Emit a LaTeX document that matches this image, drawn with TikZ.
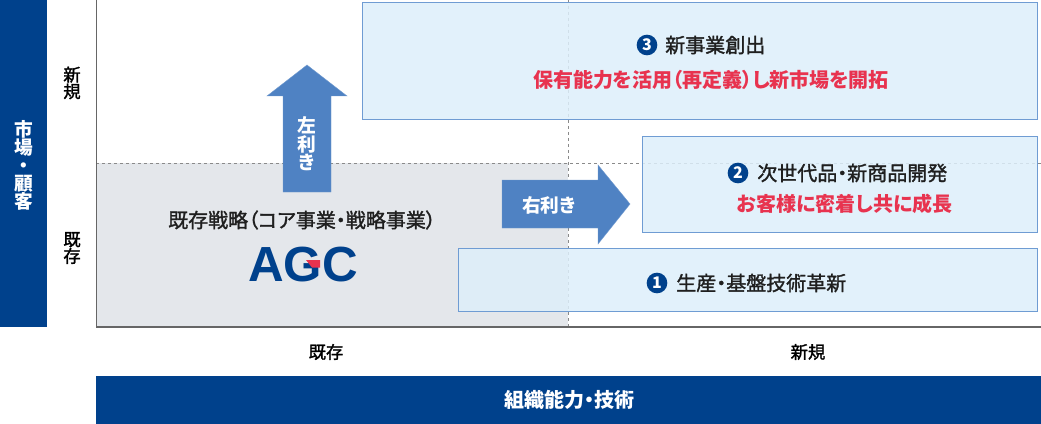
\documentclass[tikz,border=0pt]{standalone}
\usepackage{fontspec}
\setmainfont{Noto Sans CJK JP}[RawFeature=+palt]
\newfontfamily\medfont{Noto Sans CJK JP}[RawFeature=+palt,FakeBold=1.5]
\newfontfamily\logofont{Liberation Sans}
\definecolor{navy}{HTML}{00418C}
\definecolor{boxfill}{HTML}{DDEFFA}
\definecolor{boxline}{HTML}{6F9CD3}
\definecolor{arrowblue}{HTML}{4F82C3}
\definecolor{redtxt}{HTML}{E8334F}
\definecolor{grayreg}{HTML}{E4E7EB}
\definecolor{frameline}{HTML}{666666}
\definecolor{dashline}{HTML}{8A8A8A}
\begin{document}
\begin{tikzpicture}[x=0.75pt,y=-0.75pt,
  areabox/.style={draw=boxline,line width=0.9pt,fill=boxfill,fill opacity=0.85},
  numdot/.style={circle,fill=navy,text=white,inner sep=0pt,minimum size=15.5pt,font=\fontsize{12}{12}\selectfont\bfseries},
  title/.style={anchor=west,inner sep=0pt,font=\fontsize{15}{15}\medfont,text=black!88},
  redline/.style={inner sep=0pt,font=\fontsize{15}{15}\selectfont\bfseries,text=redtxt},
  vtext/.style={align=center,inner sep=0pt},
  arrowshape/.style={fill=arrowblue,draw=arrowblue!80!white,line width=0.3pt},
  dashy/.style={draw=dashline,line width=0.6pt,dash pattern=on 2.5pt off 2pt}]
\useasboundingbox (0,0) rectangle (1041,424);
% left bar
\fill[navy] (0,0) rectangle (47,327);
\node[vtext,text=white,font=\fontsize{14}{13.5}\selectfont\bfseries] (market) at (24,165) {市\\場\\・\\顧\\客};
% axis labels
\node[vtext,font=\fontsize{13}{12.5}\medfont] (ynew) at (72,83) {新\\規};
\node[vtext,font=\fontsize{13}{12.5}\medfont] (yold) at (72,248) {既\\存};
% gray region
\fill[grayreg] (96,163) rectangle (568,327);
% dashed lines
\draw[dashy] (96,163) -- (1041,163);
\draw[dashy] (568,0) -- (568,327);
% frame
\draw[frameline,line width=1pt] (96.5,0) -- (96.5,327) -- (1041,327);
% boxes
\node[areabox,minimum width=675*0.75pt,minimum height=117*0.75pt,anchor=north west] (b3) at (362,2) {};
\node[areabox,minimum width=395*0.75pt,minimum height=96*0.75pt,anchor=north west] (b2) at (642,136) {};
\node[areabox,minimum width=579*0.75pt,minimum height=63*0.75pt,anchor=north west] (b1) at (458,248) {};
% arrows
\draw[arrowshape] (283,192) -- (283,96) -- (267,96) -- (307,65) -- (347,96) -- (331,96) -- (331,192) -- cycle;
\draw[arrowshape] (502,180) -- (598,180) -- (598,165) -- (630,204) -- (598,244) -- (598,228) -- (502,228) -- cycle;
\node[vtext,text=white,font=\fontsize{14}{14}\selectfont\bfseries] (left) at (307,144) {左\\利\\き};
\node[inner sep=0pt,text=white,font=\fontsize{14}{14}\selectfont\bfseries] (right) at (549,205) {右利き};
% box 3
\node[numdot] (n3) at (647,45) {3};
\node[title] (t3) at (665,45) {新事業創出};
\node[redline] (r3) at (711,80) {保有能力を活用（再定義）し新市場を開拓};
% box 2
\node[numdot] (n2) at (738,173) {2};
\node[title] (t2) at (757,173) {次世代品・新商品開発};
\node[redline] (r2) at (845,204) {お客様に密着し共に成長};
% box 1
\node[numdot] (n1) at (657,283) {1};
\node[title] (t1) at (676,283) {生産・基盤技術革新};
% existing strategy
\node[inner sep=0pt,font=\fontsize{15}{15}\medfont,text=black!88] (exist) at (302,220) {既存戦略（コア事業・戦略事業）};
\node[inner sep=0pt,font=\fontsize{37}{37}\logofont\bfseries,text=navy] (agc) at (303,265) {AGC};
\fill[redtxt] (306,260) -- (320,260) -- (320,267.5) -- (312,267.5) -- cycle;
% bottom
\node[inner sep=0pt,font=\fontsize{13}{13}\medfont] (xold) at (326,352) {既存};
\node[inner sep=0pt,font=\fontsize{13}{13}\medfont] (xnew) at (808,352) {新規};
\fill[navy] (96,376) rectangle (1041,424);
\node[inner sep=0pt,text=white,font=\fontsize{15}{15}\selectfont\bfseries] (org) at (569,400) {組織能力・技術};
\end{tikzpicture}
\end{document}
